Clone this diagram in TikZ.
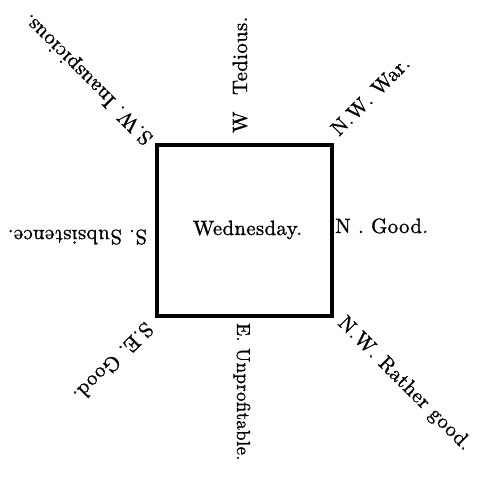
\documentclass[tikz,border=0pt]{standalone}
\usepackage{fontspec}
\setmainfont{lmroman10-regular.otf}[FakeBold=1.2, LetterSpace=2]
\begin{document}
\begin{tikzpicture}[x=1pt,y=1pt,
  lbl/.style={inner sep=0pt, font=\fontsize{20.7}{25}\selectfont},
  boxst/.style={draw, line width=3.2pt, minimum width=175pt, minimum height=171pt, inner sep=0pt}]
\useasboundingbox (0,0) rectangle (477,482);
\node[boxst] (sq) at (244.5,251.5) {};
\node[lbl, anchor=base] (wed) at (247.5,247) {Wednesday.};
\node[lbl, anchor=base west] (n) at (335,249) {N . Good.};
\node[lbl, anchor=base west, rotate=180] (s) at (147,252) {S. Subsistence.};
\node[lbl, anchor=base west, rotate=90] (w) at (247,349) {W\hspace{0.8em}Tedious.};
\node[lbl, anchor=base west, rotate=-90, font=\fontsize{18.8}{23}\selectfont] (e) at (237,159) {E. Unprofitable.};
\node[lbl, anchor=base west, rotate=45] (nw) at (339,345) {N.W. War.};
\node[lbl, anchor=base west, rotate=-45] (nw2) at (337,158) {N.W. Rather good.};
\node[lbl, anchor=base west, rotate=135] (sw) at (154,345) {S.W. Inauspicious.};
\node[lbl, anchor=base west, rotate=225] (se) at (145,161) {S.E. Good.};
\end{tikzpicture}
\end{document}
